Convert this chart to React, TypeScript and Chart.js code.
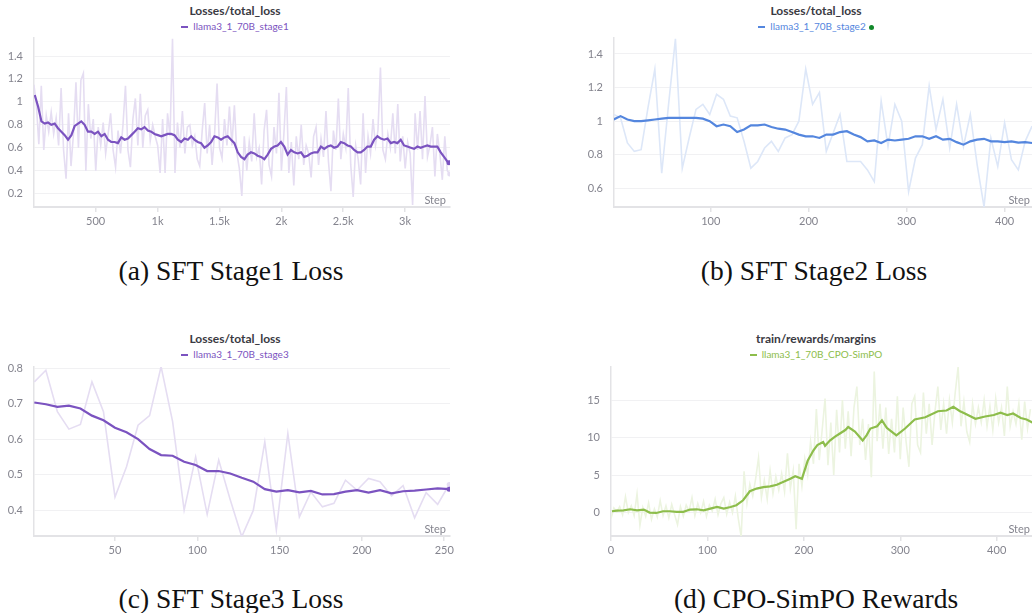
import React, { useEffect, useRef } from "react";
import { Chart, registerables } from "chart.js";

Chart.register(...registerables);

// ---------------- Data ----------------
// (a) SFT Stage1 loss – raw values logged every 20 steps starting at step 1
const aRawStart = 1;
const aRawEvery = 20;
const aRaw = [
  1.15, 0.98, 0.63, 1.14, 0.58, 0.88, 0.74, 0.91, 0.72, 0.86,
  0.62, 1.12, 0.58, 0.33, 0.90, 0.44, 0.72, 1.17, 0.60, 1.19,
  1.25, 0.40, 0.98, 0.68, 0.85, 0.40, 0.78, 0.62, 0.82, 0.55,
  0.72, 0.90, 0.58, 0.43, 0.75, 0.55, 0.80, 1.14, 0.58, 0.43,
  0.85, 1.03, 0.62, 1.07, 0.60, 0.88, 0.93, 0.66, 0.80, 0.70,
  0.62, 0.38, 0.85, 0.38, 0.90, 0.70, 1.55, 0.38, 0.82, 0.60,
  0.92, 0.55, 0.78, 0.80, 0.62, 0.70, 0.50, 0.44, 0.75, 0.99,
  0.55, 0.80, 0.45, 0.72, 1.16, 0.60, 0.51, 0.85, 0.62, 0.96,
  0.62, 0.97, 0.55, 0.42, 0.18, 0.70, 0.40, 0.65, 0.48, 0.90,
  0.52, 0.60, 0.28, 0.75, 0.93, 0.45, 0.35, 0.78, 0.55, 1.08,
  0.40, 0.72, 1.13, 0.38, 0.65, 0.27, 0.70, 0.50, 0.80, 0.45,
  0.62, 0.55, 0.34, 0.70, 0.78, 0.45, 0.68, 0.52, 0.92, 0.48,
  0.22, 0.75, 0.58, 1.03, 0.50, 0.72, 0.60, 1.12, 0.45, 0.17,
  0.62, 0.50, 0.28, 0.90, 0.38, 0.70, 0.55, 0.85, 0.62, 0.75,
  1.30, 0.58, 0.50, 0.72, 0.60, 0.90, 0.55, 0.98, 0.48, 0.70,
  0.42, 0.65, 0.55, 0.10, 0.90, 0.58, 0.92, 0.50, 1.05, 0.52,
  0.62, 0.78, 0.35, 0.72, 0.55, 0.32, 0.70, 0.40, 0.37,
];
const aSmoothSteps = [
  8, 35, 62, 89, 116, 142, 169, 196, 223, 250, 277, 304, 331, 358, 384, 411, 438, 465, 492, 519,
  546, 573, 600, 626, 653, 680, 707, 734, 761, 788, 815, 841, 868, 895, 922, 949, 976, 1003, 1030, 1056,
  1083, 1110, 1137, 1164, 1191, 1218, 1245, 1272, 1298, 1325, 1352, 1379, 1406, 1433, 1460, 1487, 1513, 1540, 1567, 1594,
  1621, 1648, 1675, 1702, 1728, 1755, 1782, 1809, 1836, 1863, 1890, 1917, 1944, 1970, 1997, 2024, 2051, 2078, 2105, 2132,
  2159, 2185, 2212, 2239, 2266, 2293, 2320, 2347, 2374, 2400, 2427, 2454, 2481, 2508, 2535, 2562, 2589, 2616, 2642, 2669,
  2696, 2723, 2750, 2777, 2804, 2831, 2858, 2885, 2911, 2938, 2965, 2992, 3019, 3046, 3073, 3100, 3126, 3153, 3180, 3207,
  3234, 3261, 3288, 3315, 3341, 3355,
];
const aSmooth = [
  1.06, 0.96, 0.83, 0.81, 0.82, 0.80, 0.81, 0.77, 0.74, 0.71, 0.67, 0.71, 0.79, 0.81, 0.83, 0.80, 0.74, 0.74, 0.72, 0.74,
  0.70, 0.72, 0.67, 0.65, 0.65, 0.64, 0.69, 0.67, 0.68, 0.71, 0.74, 0.77, 0.76, 0.78, 0.75, 0.74, 0.72, 0.71, 0.70, 0.71,
  0.72, 0.72, 0.71, 0.67, 0.65, 0.68, 0.67, 0.70, 0.67, 0.65, 0.64, 0.60, 0.62, 0.65, 0.70, 0.69, 0.67, 0.69, 0.70, 0.67,
  0.64, 0.56, 0.52, 0.50, 0.54, 0.56, 0.55, 0.53, 0.52, 0.50, 0.54, 0.59, 0.61, 0.62, 0.65, 0.61, 0.54, 0.58, 0.56, 0.55,
  0.56, 0.52, 0.53, 0.55, 0.56, 0.56, 0.61, 0.59, 0.61, 0.62, 0.60, 0.61, 0.65, 0.64, 0.62, 0.61, 0.58, 0.56, 0.56, 0.58,
  0.61, 0.61, 0.67, 0.70, 0.68, 0.67, 0.68, 0.64, 0.65, 0.64, 0.67, 0.62, 0.61, 0.60, 0.59, 0.61, 0.60, 0.61, 0.62, 0.61,
  0.61, 0.61, 0.56, 0.52, 0.48, 0.47,
];
const aXTicks = [500, 1000, 1500, 2000, 2500, 3000];
const aXLabels = ["500", "1k", "1.5k", "2k", "2.5k", "3k"];
const aYTicks = [0.2, 0.4, 0.6, 0.8, 1, 1.2, 1.4];
const aYLabels = ["0.2", "0.4", "0.6", "0.8", "1", "1.2", "1.4"];

// (b) SFT Stage2 loss – logged every 7 steps starting at step 1
const bStart = 1;
const bEvery = 7;
const bRaw = [
  1.04, 1.02, 0.87, 0.82, 0.83, 1.08, 1.31, 0.69, 1.10, 1.49,
  0.72, 0.90, 1.07, 1.10, 1.04, 1.16, 1.13, 1.03, 1.02, 0.88,
  0.72, 0.76, 0.84, 0.88, 0.82, 0.90, 0.92, 1.00, 1.31, 1.10,
  1.17, 0.82, 0.93, 1.04, 0.76, 0.76, 0.76, 0.71, 0.64, 1.12,
  0.85, 1.10, 1.00, 0.58, 0.78, 0.86, 1.21, 0.95, 1.13, 0.84,
  1.10, 0.85, 1.04, 0.74, 0.49, 0.90, 0.73, 0.99, 0.77, 0.71,
  0.88, 0.97,
];
const bSmooth = [
  1.01, 1.03, 1.01, 1.00, 1.00, 1.005, 1.01, 1.015, 1.02, 1.02,
  1.02, 1.02, 1.02, 1.015, 1.00, 0.97, 0.98, 0.97, 0.935, 0.95,
  0.975, 0.975, 0.98, 0.965, 0.955, 0.95, 0.935, 0.92, 0.91, 0.91,
  0.90, 0.92, 0.92, 0.935, 0.94, 0.92, 0.905, 0.88, 0.885, 0.87,
  0.89, 0.885, 0.89, 0.895, 0.91, 0.91, 0.895, 0.91, 0.89, 0.895,
  0.875, 0.86, 0.88, 0.89, 0.895, 0.88, 0.88, 0.875, 0.88, 0.872,
  0.875, 0.87,
];
const bXTicks = [100, 200, 300, 400];
const bXLabels = ["100", "200", "300", "400"];
const bYTicks = [0.6, 0.8, 1, 1.2, 1.4];
const bYLabels = ["0.6", "0.8", "1", "1.2", "1.4"];

// (c) SFT Stage3 loss – logged every 7 steps starting at step 1
const cStart = 1;
const cEvery = 7;
const cRaw = [
  0.762, 0.795, 0.678, 0.629, 0.642, 0.762, 0.678, 0.438, 0.523, 0.640,
  0.667, 0.805, 0.650, 0.401, 0.551, 0.389, 0.542, 0.430, 0.326, 0.400,
  0.593, 0.345, 0.617, 0.382, 0.452, 0.410, 0.420, 0.485, 0.457, 0.490,
  0.481, 0.441, 0.470, 0.379, 0.450, 0.417, 0.473,
];
const cSmooth = [
  0.704, 0.699, 0.692, 0.695, 0.687, 0.667, 0.654, 0.633, 0.620, 0.601,
  0.573, 0.556, 0.554, 0.537, 0.528, 0.511, 0.511, 0.504, 0.492, 0.481,
  0.460, 0.453, 0.457, 0.451, 0.455, 0.445, 0.446, 0.453, 0.457, 0.450,
  0.457, 0.448, 0.454, 0.456, 0.459, 0.462, 0.460,
];
const cXTicks = [50, 100, 150, 200, 250];
const cXLabels = ["50", "100", "150", "200", "250"];
const cYTicks = [0.4, 0.5, 0.6, 0.7, 0.8];
const cYLabels = ["0.4", "0.5", "0.6", "0.7", "0.8"];

// (d) CPO-SimPO reward margins – raw logged every 3 steps from step 0
const dRawStart = 0;
const dRawEvery = 3;
const dRaw = [
  -0.8, 0.6, 0.1, 0.8, -0.3, 2.1, 0.0, 0.9, -0.4, 2.5,
  -1.7, 0.7, -0.5, 1.3, -0.9, 0.5, -0.6, 1.6, -0.4, 0.9,
  -0.7, 1.1, -0.3, -1.6, 0.8, -0.5, 1.0, 0.2, 2.0, -0.4,
  1.2, 0.0, 1.5, -0.5, 1.0, 0.2, 1.8, -0.3, 1.2, 2.0,
  -0.2, 1.4, 0.0, 2.2, -0.8, -3.2, 5.5, 1.2, 3.8, 2.2,
  4.5, 7.3, 2.0, 4.3, 1.8, 5.6, 2.5, 4.8, 3.0, 5.2,
  2.8, 7.9, 3.2, 5.6, -2.2, 6.5, 3.5, 7.2, 5.0, 9.5,
  6.5, 13.8, 7.0, 11.0, 15.2, 6.3, 12.0, 5.0, 13.7, 8.0,
  15.0, 8.5, 13.5, 7.5, 14.0, 16.8, 9.0, 12.5, 7.0, 11.8,
  4.7, 18.8, 9.5, 14.5, 8.5, 14.0, 7.8, 12.5, 8.0, 15.5,
  7.1, 14.0, 9.5, 6.1, 14.5, 15.5, 9.0, 8.0, 16.0, 10.5,
  14.5, 9.0, 13.5, 16.8, 11.0, 14.5, 10.5, 15.0, 12.0, 16.0,
  19.4, 11.5, 14.8, 10.8, 9.4, 14.5, 11.8, 14.0, 12.0, 15.0,
  11.5, 14.2, 11.0, 15.2, 12.0, 14.0, 10.2, 16.8, 11.5, 13.5,
  11.8, 14.5, 9.7, 14.8, 11.2, 13.8,
];
const dSmoothSteps = [
  1, 6, 13, 20, 27, 34, 40, 47, 54, 61, 68, 75, 82, 89, 96, 103, 110, 117, 124, 130,
  137, 144, 151, 158, 165, 172, 179, 186, 191, 198, 204, 210, 214, 220, 222, 227, 232, 237, 243, 246,
  253, 261, 265, 269, 276, 281, 286, 289, 296, 305, 315, 326, 339, 348, 355, 362, 367, 378, 388, 397,
  404, 411, 417, 425, 431, 437,
];
const dSmooth = [
  0.18, 0.27, 0.30, 0.44, 0.30, 0.40, 0.00, -0.05, 0.18, 0.18, 0.09, 0.09, 0.40, 0.44, 0.30, 0.53, 0.75, 0.53, 0.75, 0.98,
  1.64, 2.84, 3.2, 3.4, 3.5, 3.7, 4.1, 4.5, 4.84, 4.5, 6.9, 8.3, 9.0, 9.4, 8.9, 9.6, 10.1, 10.5, 11.0, 11.4,
  10.8, 9.6, 10.3, 11.2, 11.5, 12.3, 11.3, 11.0, 10.3, 11.2, 12.4, 12.7, 13.5, 13.6, 14.1, 13.5, 13.2, 12.5, 12.8, 13.0,
  13.3, 13.0, 13.2, 12.6, 12.4, 12.0,
];
const dXTicks = [0, 100, 200, 300, 400];
const dXLabels = ["0", "100", "200", "300", "400"];
const dYTicks = [0, 5, 10, 15];
const dYLabels = ["0", "5", "10", "15"];

// ---------------- Styling ----------------
const FONT = "Lato";
const TICK_COLOR = "#84848e";
const AXIS_COLOR = "#e3e3e6";
const GRID_COLOR = "#f1f1f3";

Chart.defaults.font.family = FONT;

type Pt = { x: number; y: number };

type PanelProps = {
  left: number;
  top: number;
  width: number;
  height: number;
  yAxisW: number;
  xAxisH: number;
  padTop: number;
  padRight: number;
  xMin: number;
  xMax: number;
  yMin: number;
  yMax: number;
  xTicks: number[];
  xLabels: string[];
  yTicks: number[];
  yLabels: string[];
  raw: Pt[];
  smooth: Pt[];
  color: string;
  rawColor: string;
  endDots: boolean;
};

function Panel(p: PanelProps) {
  const ref = useRef<HTMLCanvasElement | null>(null);
  useEffect(() => {
    if (!ref.current) return;
    const stepPlugin = {
      id: "stepLabel",
      afterDatasetsDraw(chart: any) {
        const { ctx, chartArea } = chart;
        ctx.save();
        ctx.font = `11px ${FONT}`;
        ctx.fillStyle = TICK_COLOR;
        ctx.textAlign = "right";
        ctx.textBaseline = "middle";
        ctx.fillText("Step", chartArea.right - 4, chartArea.bottom - 7);
        ctx.restore();
      },
    };
    const lastDot = (n: number) => (ctx: any) => (p.endDots && ctx.dataIndex === n - 1 ? 2.5 : 0);
    const chart = new Chart(ref.current, {
      type: "line",
      data: {
        datasets: [
          {
            data: p.smooth,
            borderColor: p.color,
            backgroundColor: p.color,
            borderWidth: 2.2,
            pointRadius: lastDot(p.smooth.length),
            pointBorderWidth: 0,
            tension: 0,
            order: 0,
          },
          {
            data: p.raw,
            borderColor: p.rawColor,
            backgroundColor: p.rawColor,
            borderWidth: 1.6,
            pointRadius: lastDot(p.raw.length),
            pointBorderWidth: 0,
            tension: 0,
            order: 1,
          },
        ],
      },
      options: {
        responsive: false,
        maintainAspectRatio: false,
        animation: false,
        events: [],
        layout: { padding: { top: p.padTop, right: p.padRight, left: 0, bottom: 0 } },
        plugins: {
          legend: { display: false },
          title: { display: false },
          tooltip: { enabled: false },
        },
        scales: {
          x: {
            type: "linear",
            min: p.xMin,
            max: p.xMax,
            afterFit: (s: any) => {
              s.height = p.xAxisH;
              s.paddingLeft = 0;
              s.paddingRight = 0;
            },
            afterBuildTicks: (s: any) => {
              s.ticks = p.xTicks.map((v) => ({ value: v }));
            },
            ticks: {
              autoSkip: false,
              maxRotation: 0,
              color: TICK_COLOR,
              font: { size: 11, family: FONT },
              padding: 3,
              callback: (_v: any, i: number) => p.xLabels[i],
            },
            grid: {
              drawOnChartArea: false,
              drawTicks: true,
              tickLength: 5,
              color: AXIS_COLOR,
              lineWidth: 1.5,
            },
            border: { color: AXIS_COLOR, width: 2 },
          },
          y: {
            type: "linear",
            min: p.yMin,
            max: p.yMax,
            afterFit: (s: any) => {
              s.width = p.yAxisW;
              s.paddingTop = 0;
              s.paddingBottom = 0;
            },
            afterBuildTicks: (s: any) => {
              s.ticks = p.yTicks.map((v) => ({ value: v }));
            },
            ticks: {
              autoSkip: false,
              color: TICK_COLOR,
              font: { size: 11, family: FONT },
              padding: 11,
              callback: (_v: any, i: number) => p.yLabels[i],
            },
            grid: { color: GRID_COLOR, drawTicks: false, lineWidth: 1 },
            border: { color: AXIS_COLOR, width: 1.5 },
          },
        },
      },
      plugins: [stepPlugin],
    } as any);
    return () => chart.destroy();
  }, []);
  return (
    <canvas
      ref={ref}
      width={p.width}
      height={p.height}
      style={{ position: "absolute", left: p.left, top: p.top, width: p.width, height: p.height }}
    />
  );
}

function Header(props: { cx: number; titleY: number; title: string; legend: string; color: string; dot?: boolean }) {
  const { cx, titleY, title, legend, color, dot } = props;
  return (
    <>
      <div
        style={{
          position: "absolute",
          left: cx - 150,
          width: 300,
          top: titleY - 8,
          height: 16,
          lineHeight: "16px",
          textAlign: "center",
          fontFamily: FONT,
          fontWeight: 700,
          fontSize: 12,
          color: "#3a3a42",
          whiteSpace: "nowrap",
        }}
      >
        {title}
      </div>
      <div
        style={{
          position: "absolute",
          left: cx - 150,
          width: 300,
          top: titleY + 15 - 7,
          height: 14,
          lineHeight: "14px",
          textAlign: "center",
          fontFamily: FONT,
          fontSize: 10,
          color,
          whiteSpace: "nowrap",
        }}
      >
        <span
          style={{
            display: "inline-block",
            width: 7,
            height: 2,
            background: color,
            verticalAlign: "middle",
            marginRight: 5,
          }}
        />
        {legend}
        {dot ? (
          <span
            style={{
              display: "inline-block",
              width: 5,
              height: 5,
              borderRadius: "50%",
              background: "#11882a",
              verticalAlign: "middle",
              marginLeft: 3,
            }}
          />
        ) : null}
      </div>
    </>
  );
}

function Caption(props: { cx: number; baseline: number; text: string }) {
  return (
    <div
      style={{
        position: "absolute",
        left: props.cx - 200,
        width: 400,
        top: props.baseline - 26,
        height: 34,
        lineHeight: "34px",
        textAlign: "center",
        fontFamily: "'Liberation Serif', 'DejaVu Serif', serif",
        fontSize: 27.5,
        color: "#111",
        whiteSpace: "nowrap",
      }}
    >
      {props.text}
    </div>
  );
}

const PURPLE = "#7b53c0";
const PURPLE_RAW = "#e5ddf2";
const BLUE = "#5486de";
const BLUE_RAW = "#dde7f8";
const GREEN = "#8dbd4b";
const GREEN_RAW = "#ecf4e0";

export default function App() {
  const aRawPts = aRaw.map((y, i) => ({ x: aRawStart + i * aRawEvery, y }));
  const aSmoothPts = aSmooth.map((y, i) => ({ x: aSmoothSteps[i], y }));
  const bRawPts = bRaw.map((y, i) => ({ x: bStart + i * bEvery, y }));
  const bSmoothPts = bSmooth.map((y, i) => ({ x: bStart + i * bEvery, y }));
  const cRawPts = cRaw.map((y, i) => ({ x: cStart + i * cEvery, y }));
  const cSmoothPts = cSmooth.map((y, i) => ({ x: cStart + i * cEvery, y }));
  const dRawPts = dRaw.map((y, i) => ({ x: dRawStart + i * dRawEvery, y }));
  const dSmoothPts = dSmooth.map((y, i) => ({ x: dSmoothSteps[i], y }));

  return (
    <div
      style={{
        position: "absolute",
        left: 0,
        top: 0,
        width: 1032,
        height: 613,
        overflow: "hidden",
        background: "#fff",
      }}
    >
      <Header cx={235} titleY={11} title="Losses/total_loss" legend="llama3_1_70B_stage1" color={PURPLE} />
      <Panel
        left={0} top={33} width={460} height={202}
        yAxisW={34} xAxisH={28} padTop={5} padRight={10}
        xMin={2} xMax={3363} yMin={0.083} yMax={1.557}
        xTicks={aXTicks} xLabels={aXLabels} yTicks={aYTicks} yLabels={aYLabels}
        raw={aRawPts} smooth={aSmoothPts} color={PURPLE} rawColor={PURPLE_RAW} endDots={true}
      />
      <Caption cx={231} baseline={280} text="(a) SFT Stage1 Loss" />

      <Header cx={816} titleY={11} title="Losses/total_loss" legend="llama3_1_70B_stage2" color={BLUE} dot={true} />
      <Panel
        left={560} top={33} width={474} height={202}
        yAxisW={54} xAxisH={28} padTop={5} padRight={0}
        xMin={1.3} xMax={430} yMin={0.489} yMax={1.495}
        xTicks={bXTicks} xLabels={bXLabels} yTicks={bYTicks} yLabels={bYLabels}
        raw={bRawPts} smooth={bSmoothPts} color={BLUE} rawColor={BLUE_RAW} endDots={false}
      />
      <Caption cx={814} baseline={280} text="(b) SFT Stage2 Loss" />

      <Header cx={235} titleY={339} title="Losses/total_loss" legend="llama3_1_70B_stage3" color={PURPLE} />
      <Panel
        left={0} top={362} width={460} height={203}
        yAxisW={34} xAxisH={29} padTop={5} padRight={10}
        xMin={0.8} xMax={253.5} yMin={0.328} yMax={0.804}
        xTicks={cXTicks} xLabels={cXLabels} yTicks={cYTicks} yLabels={cYLabels}
        raw={cRawPts} smooth={cSmoothPts} color={PURPLE} rawColor={PURPLE_RAW} endDots={true}
      />
      <Caption cx={231} baseline={608} text="(c) SFT Stage3 Loss" />

      <Header cx={816} titleY={339} title="train/rewards/margins" legend="llama3_1_70B_CPO-SimPO" color={GREEN} />
      <Panel
        left={560} top={362} width={474} height={203}
        yAxisW={51} xAxisH={29} padTop={5} padRight={0}
        xMin={0} xMax={438.7} yMin={-3.12} yMax={19.4}
        xTicks={dXTicks} xLabels={dXLabels} yTicks={dYTicks} yLabels={dYLabels}
        raw={dRawPts} smooth={dSmoothPts} color={GREEN} rawColor={GREEN_RAW} endDots={false}
      />
      <Caption cx={816} baseline={608} text="(d) CPO-SimPO Rewards" />
    </div>
  );
}
